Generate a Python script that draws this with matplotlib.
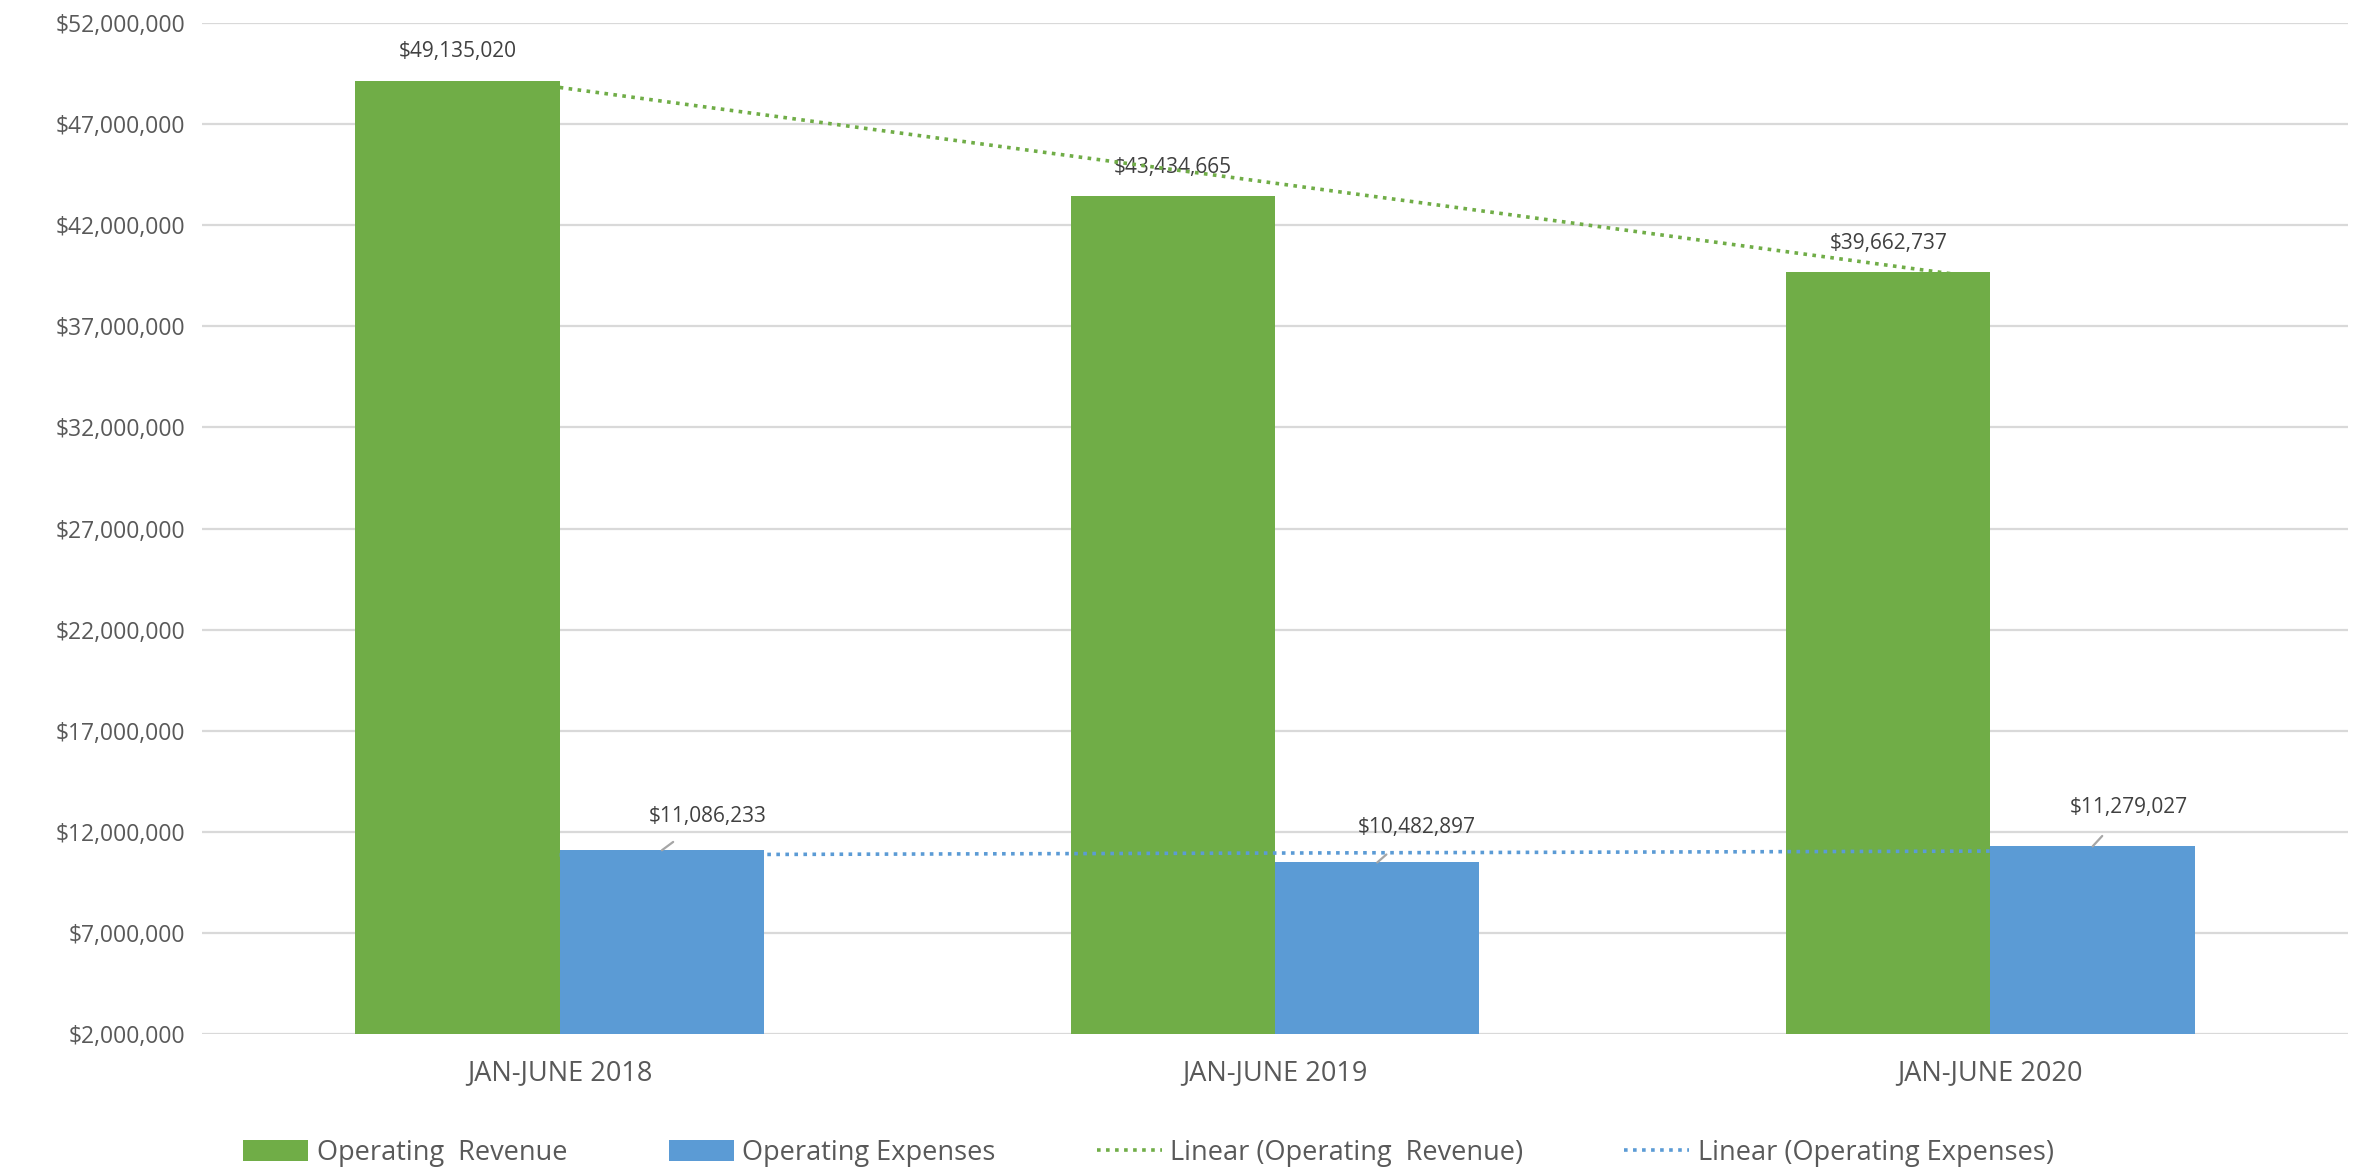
import matplotlib
matplotlib.use("Agg")
import matplotlib.pyplot as plt
import numpy as np

plt.rcParams['font.family'] = ['Open Sans', 'DejaVu Sans']

categories = ["JAN-JUNE 2018", "JAN-JUNE 2019", "JAN-JUNE 2020"]
revenue = [49135020, 43434665, 39662737]
expenses = [11086233, 10482897, 11279027]
series_names = ["Operating  Revenue", "Operating Expenses"]
yticks = [2000000, 7000000, 12000000, 17000000, 22000000, 27000000,
          32000000, 37000000, 42000000, 47000000, 52000000]

GREEN = "#70AD47"
BLUE = "#5B9BD5"
TEXT = "#595959"
GRID = "#D9D9D9"

fig = plt.figure(figsize=(23.68, 11.75), dpi=100)
ax = fig.add_axes([0.0853, 0.12, 0.9063, 0.8604])

x = np.arange(len(categories))
w = 0.2857
bars_r = ax.bar(x - w / 2, revenue, width=w, color=GREEN, label=series_names[0], zorder=2)
bars_e = ax.bar(x + w / 2, expenses, width=w, color=BLUE, label=series_names[1], zorder=2)

# linear trendlines
pr = np.polyfit(x, revenue, 1)
pe = np.polyfit(x, expenses, 1)
ln_r, = ax.plot(x, np.polyval(pr, x), linestyle=(0, (1, 1.5)), color=GREEN, lw=2.6,
                label="Linear (" + series_names[0] + ")", zorder=4)
ln_e, = ax.plot(x, np.polyval(pe, x), linestyle=(0, (1, 1.5)), color=BLUE, lw=2.6,
                label="Linear (" + series_names[1] + ")", zorder=4)

ax.set_xlim(-0.5, 2.5)
ax.set_ylim(yticks[0], yticks[-1])
ax.set_yticks(yticks)
ax.set_yticklabels(["${:,.0f}".format(v) for v in yticks])
ax.set_xticks(x)
ax.set_xticklabels(categories)
ax.tick_params(axis='y', length=0, labelsize=16.5, colors=TEXT, pad=12)
ax.tick_params(axis='x', length=0, labelsize=19.5, colors=TEXT, pad=18)
ax.yaxis.grid(True, color=GRID, lw=1.6, zorder=0)
ax.set_axisbelow(True)
for s in ax.spines.values():
    s.set_visible(False)

# data labels
for b, v in zip(bars_r, revenue):
    ax.annotate("${:,.0f}".format(v), (b.get_x() + b.get_width() / 2, v),
                xytext=(0, 29), textcoords='offset pixels', ha='center', va='center',
                fontsize=15, color="#404040", zorder=3)
offsets = [(46, 34), (40, 35), (36, 39)]
for b, v, (dx, dy) in zip(bars_e, expenses, offsets):
    cx = b.get_x() + b.get_width() / 2
    ax.annotate("${:,.0f}".format(v), (cx, v),
                xytext=(dx, dy), textcoords='offset pixels', ha='center', va='center',
                fontsize=15, color="#404040", zorder=3,
                arrowprops=dict(arrowstyle='-', color="#A6A6A6", lw=1.6,
                                shrinkA=15, shrinkB=0))

handles = [bars_r, bars_e, ln_r, ln_e]
labels = [h.get_label() for h in handles]
leg = fig.legend(handles, labels, loc='lower center', bbox_to_anchor=(0.485, -0.014), ncol=4,
                 frameon=False, fontsize=19.5, labelcolor=TEXT,
                 handlelength=2.4, handleheight=0.78, columnspacing=3.75,
                 handletextpad=0.3)

fig.savefig("out.png", dpi=100)
